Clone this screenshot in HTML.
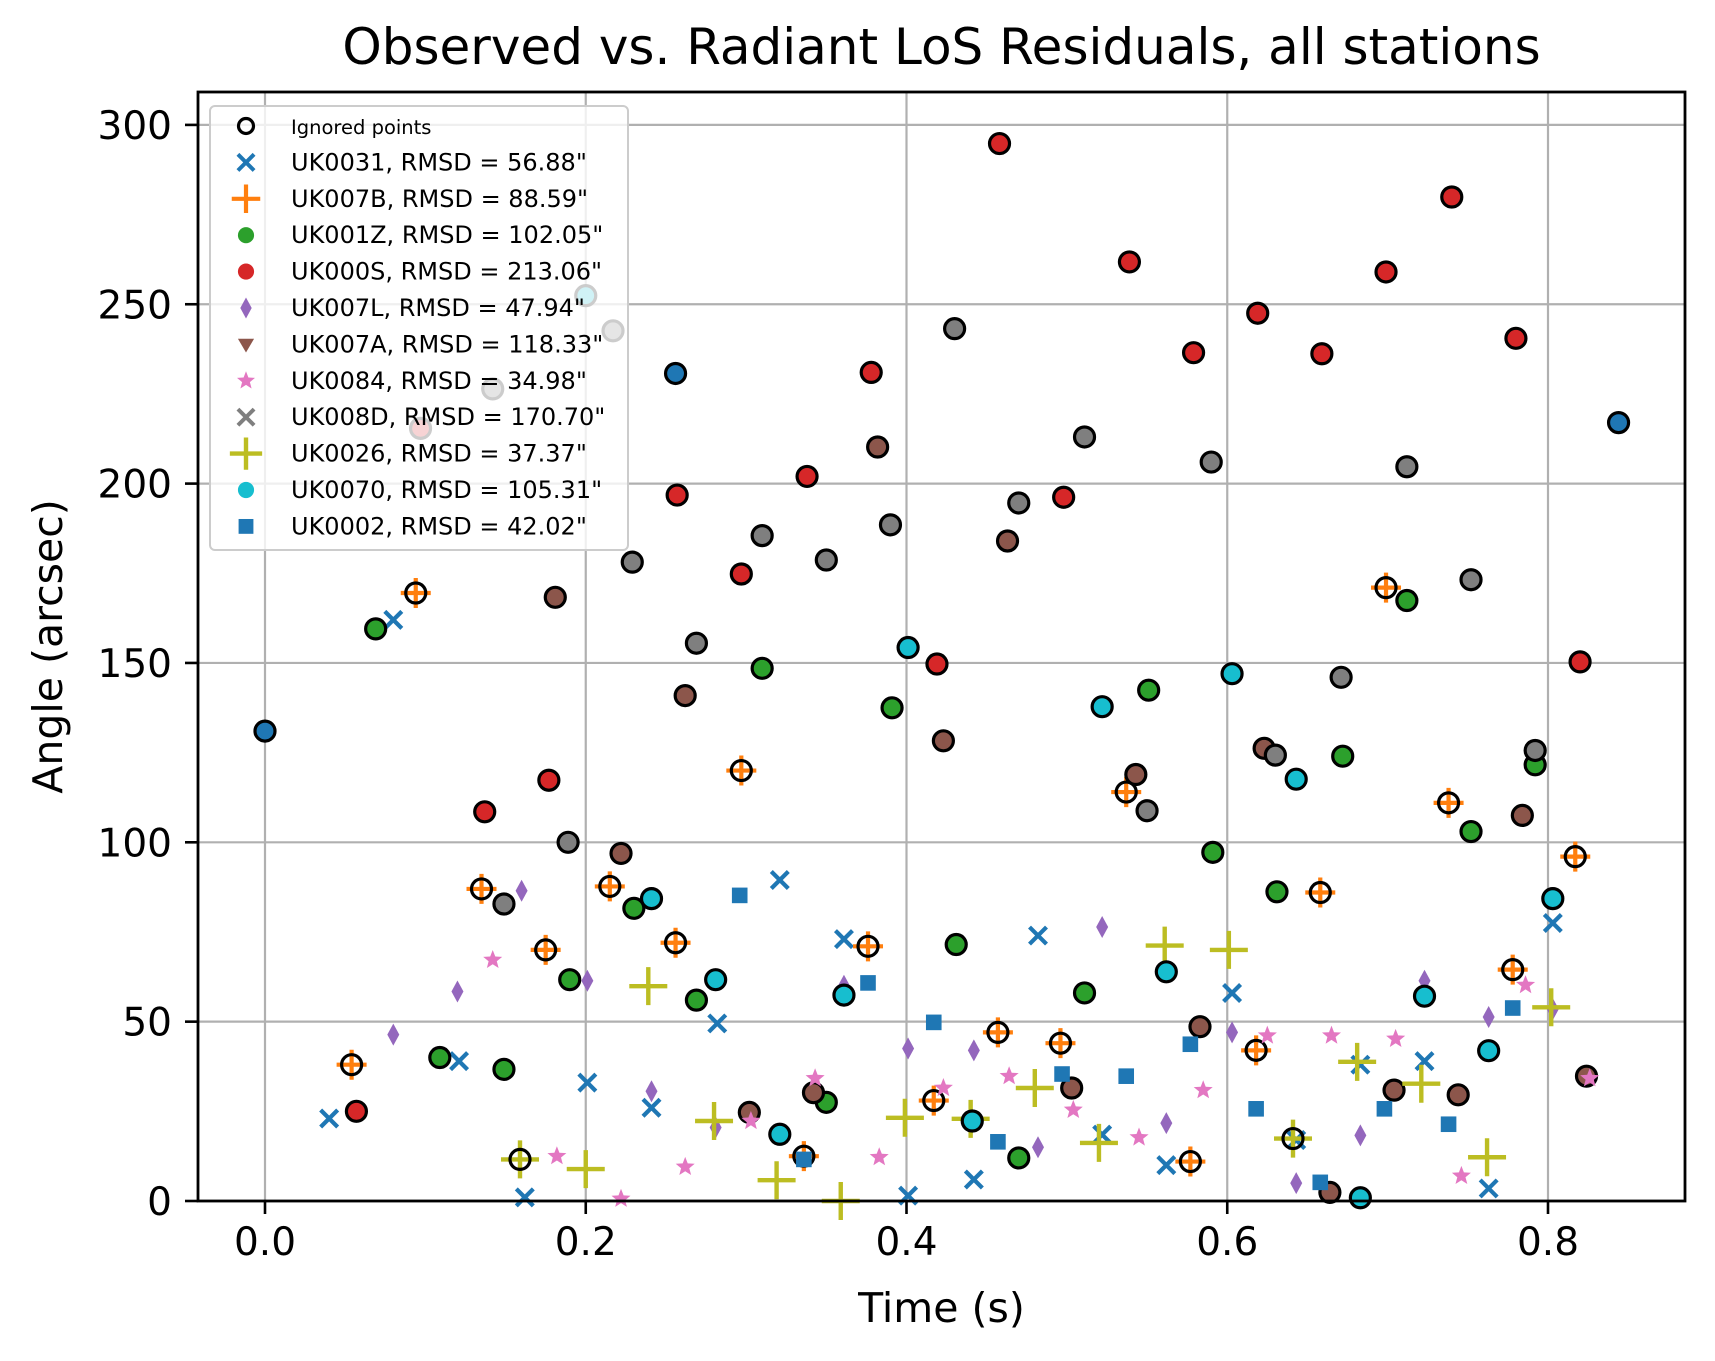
<!DOCTYPE html>
<html><head><meta charset="utf-8"><style>
body{margin:0;background:#fff}
svg{display:block;font-family:"DejaVu Sans","Liberation Sans",sans-serif}
</style></head><body>
<svg id="chart" width="1715" height="1361" xmlns="http://www.w3.org/2000/svg">
<rect width="1715" height="1361" fill="#fff"/>
<g id="grid"></g><g id="marks"></g><g id="axes"></g><g id="legend"></g>
</svg>
<script>
const xTicks=[0,0.2,0.4,0.6,0.8];
const xTickLabels=["0.0","0.2","0.4","0.6","0.8"];
const yTicks=[0,50,100,150,200,250,300];
const yTickLabels=["0","50","100","150","200","250","300"];
const seriesNames=['UK0031, RMSD = 56.88"','UK007B, RMSD = 88.59"','UK001Z, RMSD = 102.05"','UK000S, RMSD = 213.06"','UK007L, RMSD = 47.94"','UK007A, RMSD = 118.33"','UK0084, RMSD = 34.98"','UK008D, RMSD = 170.70"','UK0026, RMSD = 37.37"','UK0070, RMSD = 105.31"','UK0002, RMSD = 42.02"'];
const uk0031T=[0,0.040,0.080,0.121,0.162,0.201,0.241,0.282,0.321,0.361,0.401,0.442,0.482,0.522,0.562,0.603,0.643,0.683,0.723,0.763,0.803,0.844];
const uk0031V=[131,23,162,39,1,33,26,49.5,89.5,73,1.5,6,74,18.5,10,58,17,38,39,3.5,77.5,217];
const uk0031I=[1,0,0,0,0,0,0,0,0,0,0,0,0,0,0,0,0,0,0,0,0,1];
const uk007bT=[0.054,0.094,0.135,0.175,0.215,0.256,0.297,0.336,0.376,0.417,0.457,0.496,0.537,0.577,0.618,0.658,0.699,0.738,0.778,0.817];
const uk007bV=[38,169.5,87,70,87.7,72,120,12.5,71,28,47,44,114,11,42,86,171,111,64.5,96];
const uk001zT=[0.069,0.109,0.149,0.190,0.230,0.269,0.310,0.350,0.391,0.431,0.470,0.511,0.551,0.591,0.631,0.672,0.712,0.752,0.792];
const uk001zV=[159.5,40,36.7,61.7,81.6,56,148.5,27.5,137.5,71.5,12,58,142.4,97.2,86.2,124,167.4,103,121.6];
const uk000sT=[0.057,0.097,0.137,0.177,0.257,0.297,0.338,0.378,0.419,0.458,0.498,0.539,0.579,0.619,0.659,0.699,0.740,0.780,0.820];
const uk000sV=[25,215.4,108.5,117.3,196.8,174.8,202,231,149.7,294.8,196.2,261.8,236.5,247.5,236.2,259,279.9,240.5,150.3];
const uk007lT=[0.080,0.120,0.160,0.201,0.241,0.281,0.361,0.401,0.442,0.482,0.522,0.562,0.603,0.643,0.683,0.723,0.763,0.803];
const uk007lV=[46.4,58.4,86.5,61.4,30.6,20.5,60,42.5,42,15,76.4,21.7,47,5,18.3,61.4,51.3,53.5];
const uk007aT=[0.181,0.222,0.262,0.302,0.342,0.382,0.423,0.463,0.503,0.543,0.583,0.623,0.664,0.704,0.744,0.784,0.824];
const uk007aV=[168.3,96.9,140.9,24.7,30.2,210.2,128.3,184,31.5,118.9,48.6,126.2,2.4,30.9,29.6,107.5,34.8];
const uk0084T=[0.142,0.182,0.222,0.262,0.303,0.343,0.383,0.423,0.464,0.504,0.545,0.585,0.625,0.665,0.705,0.746,0.786,0.826];
const uk0084V=[67.2,12.5,0.6,9.5,22.3,34.2,12.2,31.5,34.8,25.4,17.7,30.9,46.1,46.1,45.2,7,60.2,34.2];
const uk008dT=[0.142,0.149,0.189,0.217,0.229,0.269,0.310,0.350,0.390,0.430,0.470,0.511,0.550,0.590,0.630,0.671,0.712,0.752,0.792];
const uk008dV=[226.4,82.8,100,242.6,178.1,155.5,185.5,178.7,188.5,243.2,194.6,213,108.8,206,124.3,146,204.7,173.2,125.6];
const uk0026T=[0.159,0.200,0.239,0.280,0.319,0.359,0.399,0.440,0.480,0.520,0.561,0.601,0.641,0.681,0.721,0.762,0.802];
const uk0026V=[11.6,8.9,59.9,22.3,5.8,0,23.2,22.9,31.5,16.2,71.2,70,17.4,38.8,32.7,12.2,54];
const uk0026I=[1,0,0,0,0,0,0,0,0,0,0,0,1,0,0,0,0];
const uk0070T=[0.200,0.241,0.281,0.321,0.361,0.401,0.441,0.522,0.562,0.603,0.643,0.683,0.723,0.763,0.803];
const uk0070V=[252.4,84.3,61.7,18.6,57.4,154.3,22.3,137.8,63.9,147,117.6,0.9,57.1,41.9,84.3];
const uk0002T=[0.256,0.296,0.336,0.376,0.417,0.457,0.497,0.537,0.577,0.618,0.658,0.698,0.738,0.778];
const uk0002V=[230.7,85.2,11.6,60.8,49.8,16.5,35.4,34.8,43.7,25.7,5.2,25.7,21.4,53.8];
const uk0002I=[1,0,0,0,0,0,0,0,0,0,0,0,0,0];

const NS='http://www.w3.org/2000/svg';
const L=198,R=1685,T=92,B=1201;
const X=t=>265+t*1603.75;
const Y=v=>1201-v*3.587;
function mk(tag,attrs,parent){const e=document.createElementNS(NS,tag);for(const k in attrs)e.setAttribute(k,attrs[k]);parent.appendChild(e);return e;}
const grid=document.getElementById('grid'),marks=document.getElementById('marks'),axes=document.getElementById('axes'),leg=document.getElementById('legend');

xTicks.forEach((t,i)=>{
  const g=mk('line',{x1:X(t),x2:X(t),y1:T,y2:B,stroke:'#b0b0b0','stroke-width':2.2},grid);
  
  
  const tk=mk('line',{x1:X(t),x2:X(t),y1:B,y2:B+13,stroke:'#000','stroke-width':2.6},axes);
  
  
  const tx=mk('text',{x:X(t),y:B+54,'text-anchor':'middle','font-size':39},axes);
  tx.textContent=xTickLabels[i];
  
  
});
yTicks.forEach((v,i)=>{
  const g=mk('line',{x1:L,x2:R,y1:Y(v),y2:Y(v),stroke:'#b0b0b0','stroke-width':2.2},grid);
  
  
  const tk=mk('line',{x1:L-13,x2:L,y1:Y(v),y2:Y(v),stroke:'#000','stroke-width':2.6},axes);
  
  
  const tx=mk('text',{x:L-26,y:Y(v)+14,'text-anchor':'end','font-size':39},axes);
  tx.textContent=yTickLabels[i];
  
  
});
const frame=mk('rect',{x:L,y:T,width:R-L,height:B-T,fill:'none',stroke:'#000','stroke-width':2.8},axes);


const title=mk('text',{x:(L+R)/2,y:64,'text-anchor':'middle','font-size':50},axes);
title.textContent='Observed vs. Radiant LoS Residuals, all stations';


const xl=mk('text',{x:(L+R)/2,y:1322,'text-anchor':'middle','font-size':41},axes);
xl.textContent='Time (s)';


const yl=mk('text',{x:0,y:0,'text-anchor':'middle','font-size':41,transform:'translate(62,'+((T+B)/2)+') rotate(-90)'},axes);
yl.textContent='Angle (arcsec)';



function marker(kind,color,x,y,p,scale){
  const s=scale||1;let e;
  if(kind==='x'){const d=8.5*s;e=mk('path',{d:`M${x-d},${y-d}L${x+d},${y+d}M${x-d},${y+d}L${x+d},${y-d}`,stroke:color,'stroke-width':4.2*s,fill:'none'},p);}
  else if(kind==='plus'){const d=15*s;e=mk('path',{d:`M${x-d},${y}L${x+d},${y}M${x},${y-d}L${x},${y+d}`,stroke:color,'stroke-width':4.2,fill:'none'},p);}
  else if(kind==='bigplus'){const d=19*s;e=mk('path',{d:`M${x-d},${y}L${x+d},${y}M${x},${y-d}L${x},${y+d}`,stroke:color,'stroke-width':4.4,fill:'none'},p);}
  else if(kind==='circle'){e=mk('circle',{cx:x,cy:y,r:8.5*s,fill:color},p);}
  else if(kind==='square'){const d=7.8*s;e=mk('rect',{x:x-d,y:y-d,width:2*d,height:2*d,fill:color},p);}
  else if(kind==='diamond'){e=mk('path',{d:`M${x},${y-11*s}L${x+6*s},${y}L${x},${y+11*s}L${x-6*s},${y}Z`,fill:color},p);}
  else if(kind==='tri'){const d=8.5*s;e=mk('path',{d:`M${x-d},${y-d*0.7}L${x+d},${y-d*0.7}L${x},${y+d}Z`,fill:color},p);}
  else if(kind==='star'){let d='';for(let k=0;k<10;k++){const r=(k%2?4.3:10)*s,a=-Math.PI/2+k*Math.PI/5;d+=(k?'L':'M')+(x+r*Math.cos(a)).toFixed(1)+','+(y+r*Math.sin(a)).toFixed(1);}e=mk('path',{d:d+'Z',fill:color},p);}
  else if(kind==='ring'){e=mk('circle',{cx:x,cy:y,r:10*s,fill:'none',stroke:'#000','stroke-width':3.2},p);}
  return e;
}
const series=[
 [uk0031T,uk0031V,uk0031I,'x','#1f77b4','uk0031'],
 [uk007bT,uk007bV,null,'plus','#ff7f0e','uk007b'],
 [uk001zT,uk001zV,null,'circle','#2ca02c','uk001z'],
 [uk000sT,uk000sV,null,'circle','#d62728','uk000s'],
 [uk007lT,uk007lV,[],'diamond','#9467bd','uk007l'],
 [uk007aT,uk007aV,null,'tri','#8c564b','uk007a'],
 [uk0084T,uk0084V,[],'star','#e377c2','uk0084'],
 [uk008dT,uk008dV,null,'x','#7f7f7f','uk008d'],
 [uk0026T,uk0026V,uk0026I,'bigplus','#bcbd22','uk0026'],
 [uk0070T,uk0070V,null,'circle','#17becf','uk0070'],
 [uk0002T,uk0002V,uk0002I,'square','#1f77b4','uk0002']
];
series.forEach(s=>{
  const [ts,vs,ig,kind,color,nm]=s;
  ts.forEach((t,i)=>{
    const ignored= ig===null ? true : !!ig[i];
    const x=X(t),y=Y(vs[i]);
    if(ignored){
      if(kind==='plus'||kind==='bigplus'){
        const e=marker(kind,color,x,y,marks);
        
        
      } else {
        const c=mk('circle',{cx:x,cy:y,r:9,fill:color},marks);
        
        
      }
      const r=marker('ring','#000',x,y,marks);
      
      
    } else {
      const e=marker(kind,color,x,y,marks);
      
      
    }
  });
});

// legend
const box=mk('rect',{x:210,y:106,width:418,height:444,rx:5,fill:'#fff','fill-opacity':0.8,stroke:'#cccccc','stroke-width':2},leg);


const lgRow=(i)=>126+i*36.4;
const r0=marker('ring','#000',246,lgRow(0),leg,0.75);


const t0=mk('text',{x:291,y:lgRow(0)+8,'font-size':19.5},leg);
t0.textContent='Ignored points';


series.forEach((s,i)=>{
  const e=marker(s[3],s[4],246,lgRow(i+1),leg,s[3]==='bigplus'?0.85:0.95);
  
  
  const t=mk('text',{x:291,y:lgRow(i+1)+8,'font-size':24},leg);
  t.textContent=seriesNames[i];
  
  
});
</script>
</body></html>
